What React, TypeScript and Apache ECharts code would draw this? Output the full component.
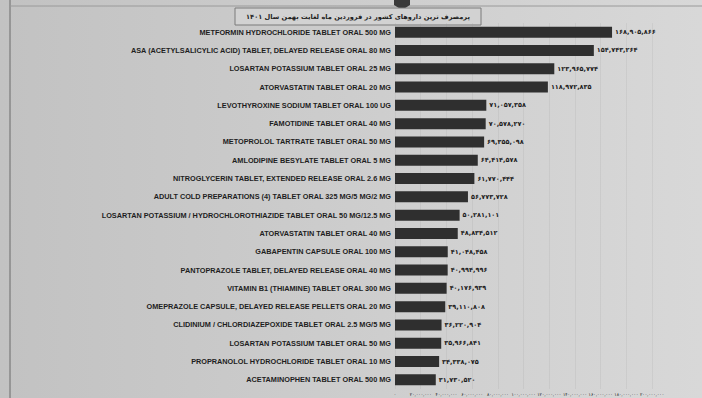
import React, { useEffect, useRef } from "react";
import * as echarts from "echarts";

const title = "پرمصرف ترین داروهای کشور در فروردین ماه لغایت بهمن سال ۱۴۰۱";

const categories: string[] = [
  "METFORMIN HYDROCHLORIDE TABLET ORAL 500 MG",
  "ASA (ACETYLSALICYLIC ACID) TABLET, DELAYED RELEASE ORAL 80 MG",
  "LOSARTAN POTASSIUM TABLET ORAL 25 MG",
  "ATORVASTATIN TABLET ORAL 20 MG",
  "LEVOTHYROXINE SODIUM TABLET ORAL 100 UG",
  "FAMOTIDINE TABLET ORAL 40 MG",
  "METOPROLOL TARTRATE TABLET ORAL 50 MG",
  "AMLODIPINE BESYLATE TABLET ORAL 5 MG",
  "NITROGLYCERIN TABLET, EXTENDED RELEASE ORAL 2.6 MG",
  "ADULT COLD PREPARATIONS (4) TABLET ORAL 325 MG/5 MG/2 MG",
  "LOSARTAN POTASSIUM / HYDROCHLOROTHIAZIDE TABLET ORAL 50 MG/12.5 MG",
  "ATORVASTATIN TABLET ORAL 40 MG",
  "GABAPENTIN CAPSULE ORAL 100 MG",
  "PANTOPRAZOLE TABLET, DELAYED RELEASE ORAL 40 MG",
  "VITAMIN B1 (THIAMINE) TABLET ORAL 300 MG",
  "OMEPRAZOLE CAPSULE, DELAYED RELEASE PELLETS ORAL 20 MG",
  "CLIDINIUM / CHLORDIAZEPOXIDE TABLET ORAL 2.5 MG/5 MG",
  "LOSARTAN POTASSIUM TABLET ORAL 50 MG",
  "PROPRANOLOL HYDROCHLORIDE TABLET ORAL 10 MG",
  "ACETAMINOPHEN TABLET ORAL 500 MG",
];

const values: number[] = [
  168905866, 154743264, 123965774, 118972835, 71057358, 70578270, 69355098,
  64414578, 61770444, 56773728, 50281101, 48834512, 41048458, 40994996,
  40176939, 39110808, 36220904, 35966841, 34338075, 31730520,
];

const axisMin = 0;
const axisMax = 200000000;
const axisInterval = 20000000;

const faDigits = "۰۱۲۳۴۵۶۷۸۹";
function toFa(n: number): string {
  const s = Math.round(n).toString().replace(/\B(?=(\d{3})+(?!\d))/g, ",");
  return s.replace(/\d/g, (d) => faDigits[Number(d)]);
}

export default function App() {
  const ref = useRef<HTMLDivElement>(null);
  useEffect(() => {
    if (!ref.current) return;
    const chart = echarts.init(ref.current, null, { renderer: "svg" });
    chart.setOption({
      animation: false,
      backgroundColor: {
        type: "linear",
        x: 0,
        y: 0,
        x2: 1,
        y2: 0,
        colorStops: [
          { offset: 0, color: "#c2c2c2" },
          { offset: 0.5, color: "#cdcdcd" },
          { offset: 1, color: "#d8d8d8" },
        ],
      },
      grid: { left: 395, right: 50, top: 23, bottom: 9 },
      xAxis: {
        type: "value",
        min: axisMin,
        max: axisMax,
        interval: axisInterval,
        axisLine: { show: false },
        axisTick: { show: false },
        splitLine: { show: true, lineStyle: { color: "rgba(150,150,150,0.15)", width: 1 } },
        axisLabel: {
          fontSize: 4.4,
          color: "#111",
          margin: 3,
          fontFamily: "DejaVu Sans",
          formatter: (v: number) => toFa(v),
        },
      },
      yAxis: {
        type: "category",
        data: categories,
        inverse: true,
        axisLine: { show: false },
        axisTick: { show: false },
        axisLabel: {
          fontSize: 7.3,
          fontWeight: "bold",
          color: "#1e1e1e",
          margin: 4,
          fontFamily: "Liberation Sans",
        },
      },
      series: [
        {
          type: "bar",
          data: values,
          barCategoryGap: "40%",
          itemStyle: { color: "#2f2f2f" },
          label: {
            show: true,
            position: "right",
            distance: 3,
            fontSize: 6.5,
            fontWeight: "bold",
            color: "#1e1e1e",
            fontFamily: "DejaVu Sans",
            formatter: (p: any) => toFa(p.value),
          },
        },
      ],
      graphic: [
        {
          type: "line",
          shape: { x1: 10, y1: 0, x2: 10, y2: 398 },
          style: { stroke: "#6a6a6a", lineWidth: 1 },
          silent: true,
        },
        {
          type: "line",
          shape: { x1: 10, y1: 6, x2: 702, y2: 6 },
          style: { stroke: "#9a9a9a", lineWidth: 1 },
          silent: true,
        },
        {
          type: "polygon",
          shape: { points: [[394, 0], [410, 0], [410, 5], [402, 10], [394, 5]] },
          style: { fill: "#3a3a3a" },
          silent: true,
        },
        {
          type: "rect",
          shape: { x: 235, y: 8, width: 246, height: 17 },
          style: { fill: "#d2d2d2", stroke: "#7a7a7a", lineWidth: 1 },
          silent: true,
        },
        {
          type: "text",
          x: 358,
          y: 16.5,
          style: {
            text: title,
            fontSize: 6.6,
            fontWeight: "bold",
            fill: "#1e1e1e",
            fontFamily: "DejaVu Sans",
            align: "center",
            verticalAlign: "middle",
          },
          silent: true,
        },
      ],
    });
    return () => chart.dispose();
  }, []);
  return <div ref={ref} style={{ width: 702, height: 398, position: "absolute", left: 0, top: 0 }} />;
}
